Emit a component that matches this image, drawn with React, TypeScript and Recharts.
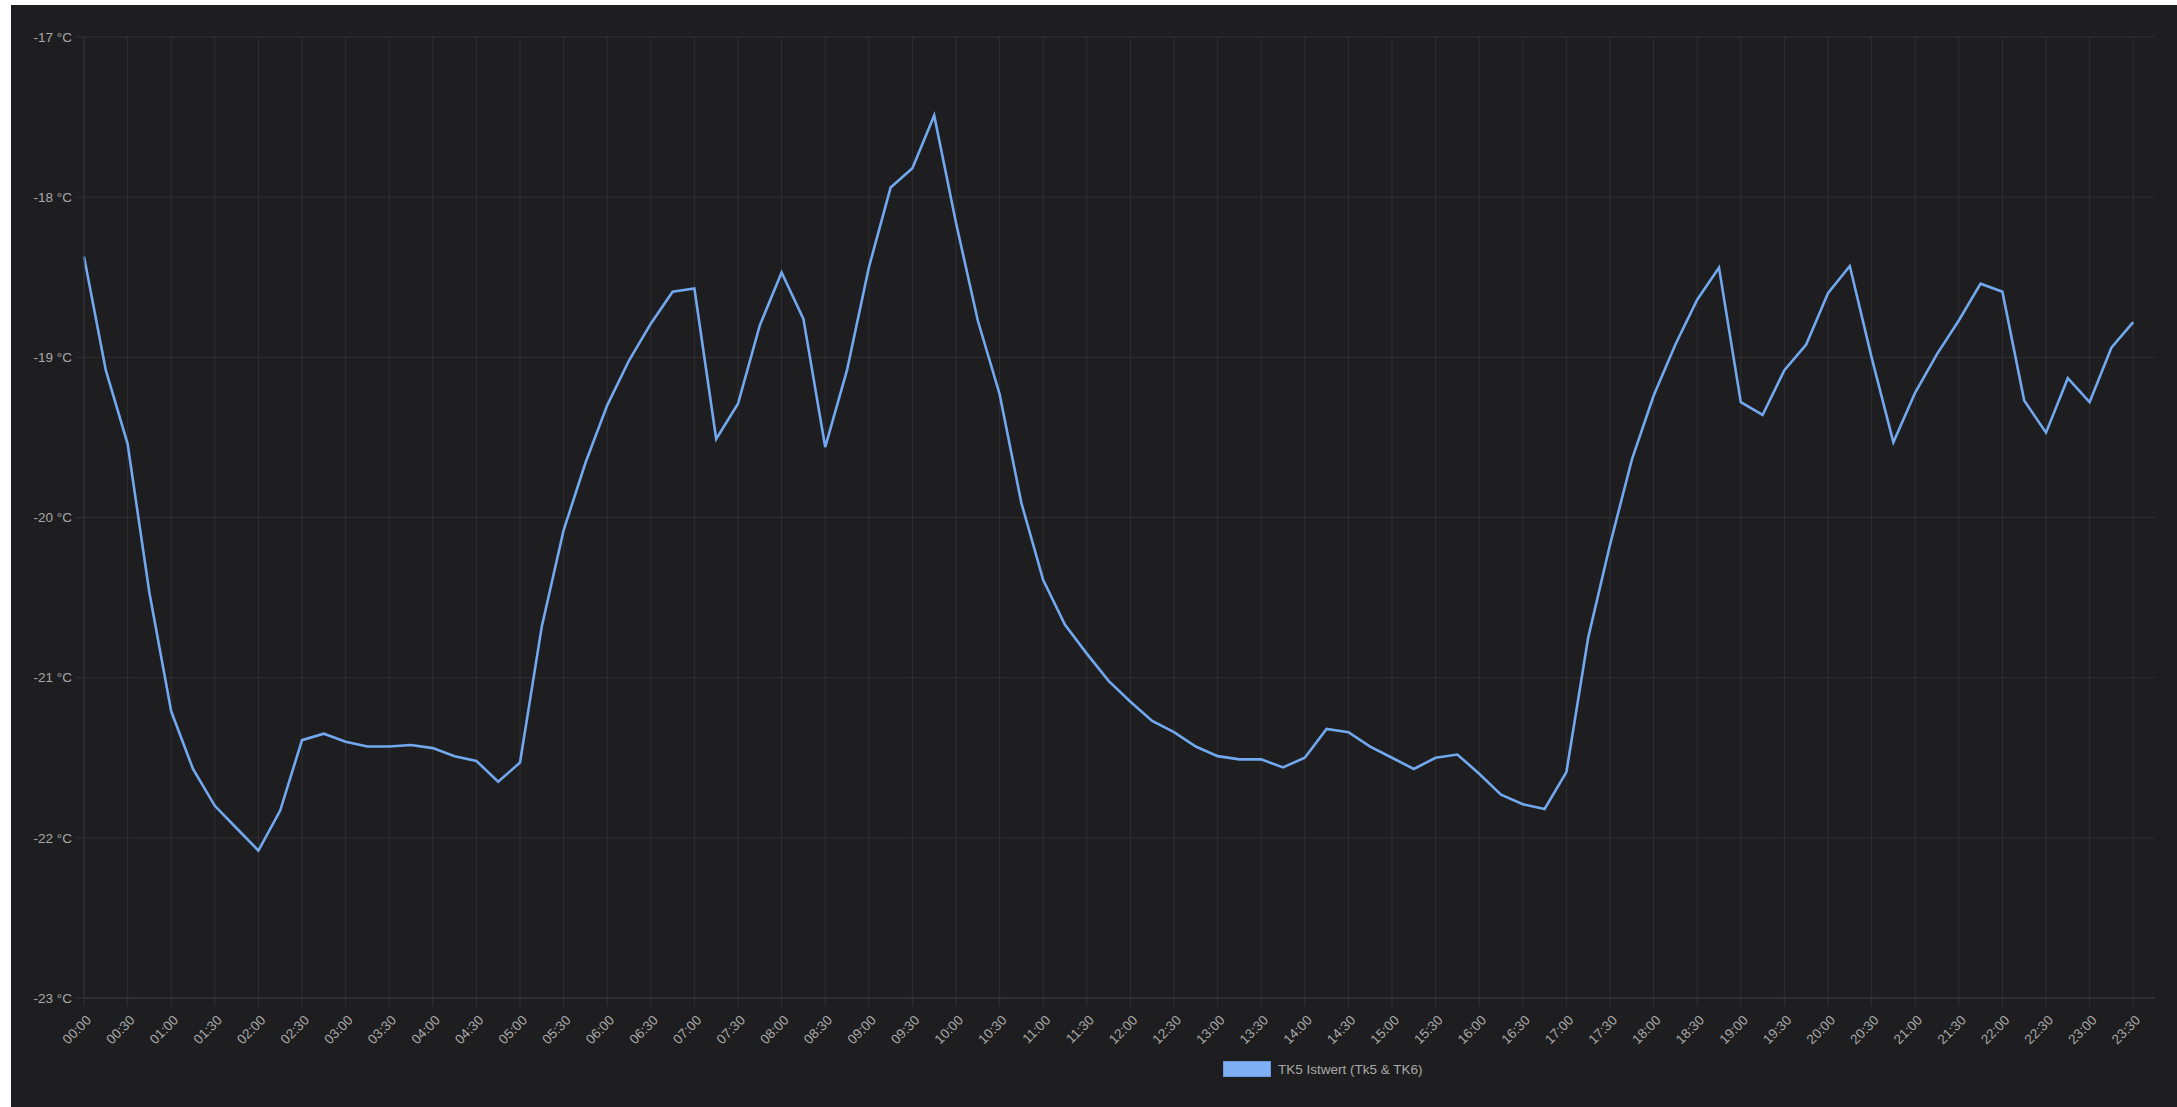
import React from 'react';
import { LineChart, Line, XAxis, YAxis, CartesianGrid } from 'recharts';

// 15-minute slots, the last one (23:45) has no reading yet
const timeSlots = [
  '00:00', '00:15', '00:30', '00:45', '01:00', '01:15', '01:30', '01:45',
  '02:00', '02:15', '02:30', '02:45', '03:00', '03:15', '03:30', '03:45',
  '04:00', '04:15', '04:30', '04:45', '05:00', '05:15', '05:30', '05:45',
  '06:00', '06:15', '06:30', '06:45', '07:00', '07:15', '07:30', '07:45',
  '08:00', '08:15', '08:30', '08:45', '09:00', '09:15', '09:30', '09:45',
  '10:00', '10:15', '10:30', '10:45', '11:00', '11:15', '11:30', '11:45',
  '12:00', '12:15', '12:30', '12:45', '13:00', '13:15', '13:30', '13:45',
  '14:00', '14:15', '14:30', '14:45', '15:00', '15:15', '15:30', '15:45',
  '16:00', '16:15', '16:30', '16:45', '17:00', '17:15', '17:30', '17:45',
  '18:00', '18:15', '18:30', '18:45', '19:00', '19:15', '19:30', '19:45',
  '20:00', '20:15', '20:30', '20:45', '21:00', '21:15', '21:30', '21:45',
  '22:00', '22:15', '22:30', '22:45', '23:00', '23:15', '23:30', '23:45',
];

const tk5Istwert: (number | null)[] = [
  -18.37, -19.08, -19.54, -20.47, -21.21, -21.57, -21.8, -21.94,
  -22.08, -21.83, -21.39, -21.35, -21.4, -21.43, -21.43, -21.42,
  -21.44, -21.49, -21.52, -21.65, -21.53, -20.68, -20.08, -19.66,
  -19.3, -19.02, -18.79, -18.59, -18.57, -19.51, -19.29, -18.8,
  -18.47, -18.76, -19.56, -19.08, -18.44, -17.94, -17.82, -17.49,
  -18.16, -18.77, -19.23, -19.91, -20.39, -20.67, -20.85, -21.02,
  -21.15, -21.27, -21.34, -21.43, -21.49, -21.51, -21.51, -21.56,
  -21.5, -21.32, -21.34, -21.43, -21.5, -21.57, -21.5, -21.48,
  -21.6, -21.73, -21.79, -21.82, -21.59, -20.75, -20.17, -19.64,
  -19.24, -18.92, -18.64, -18.44, -19.28, -19.36, -19.08, -18.92,
  -18.6, -18.43, -19.0, -19.53, -19.22, -18.98, -18.77, -18.54,
  -18.59, -19.27, -19.47, -19.13, -19.28, -18.94, -18.78, null,
];

const yTicks = [-23, -22, -21, -20, -19, -18, -17];

const seriesName = 'TK5 Istwert (Tk5 & TK6)';

const data = timeSlots.map((time, i) => ({ time, value: tk5Istwert[i] }));

const FONT = '"Liberation Sans", Arial, sans-serif';
const BG = '#1e1e20';
const GRID = '#303032';
const TEXT = '#a9a9a9';
const LINE = '#72a8ef';

const XTick = (props: any) => {
  const { x, y, payload } = props;
  const bx = x + 8;
  const by = y + 13;
  return (
    <text
      x={bx}
      y={by}
      textAnchor="end"
      fill={TEXT}
      fontSize={13.5}
      fontFamily={FONT}
      transform={`rotate(-45 ${bx} ${by})`}
    >
      {payload.value}
    </text>
  );
};

// vertical grid only at the labelled (half-hour) slots
const halfHourGrid = ({ xAxis, offset }: any) => {
  const labelled = timeSlots.filter((_, i) => i % 2 === 0);
  if (xAxis && typeof xAxis.scale === 'function') {
    return labelled.map((t) => xAxis.scale(t));
  }
  const step = offset.width / (timeSlots.length - 1);
  return labelled.map((t) => offset.left + timeSlots.indexOf(t) * step);
};

export default function App() {
  return (
    <div style={{ position: 'absolute', left: 11, top: 5, width: 2166, height: 1102, background: BG }}>
      <LineChart
        width={2166}
        height={1102}
        data={data}
        margin={{ top: 32, right: 22, bottom: 0, left: 13 }}
      >
        <CartesianGrid stroke={GRID} strokeWidth={1} verticalCoordinatesGenerator={halfHourGrid} />
        <XAxis
          dataKey="time"
          interval={1}
          height={109}
          tickSize={8}
          tickLine={{ stroke: GRID }}
          axisLine={{ stroke: '#3a3a3c' }}
          tick={<XTick />}
        />
        <YAxis
          width={60}
          domain={[-23, -17]}
          ticks={yTicks}
          interval={0}
          tickSize={8}
          tickMargin={4}
          tickLine={{ stroke: GRID }}
          axisLine={{ stroke: GRID }}
          tickFormatter={(v: number) => `${v} °C`}
          tick={{ fill: TEXT, fontSize: 13.5, fontFamily: FONT }}
        />
        <Line
          type="linear"
          dataKey="value"
          name={seriesName}
          stroke={LINE}
          strokeWidth={2.6}
          dot={false}
          activeDot={false}
          isAnimationActive={false}
        />
      </LineChart>
      <div
        style={{
          position: 'absolute',
          left: 1212,
          top: 1056,
          display: 'flex',
          alignItems: 'center',
          fontFamily: FONT,
          fontSize: 13.5,
          color: TEXT,
          whiteSpace: 'nowrap',
        }}
      >
        <span
          style={{
            display: 'inline-block',
            width: 46,
            height: 14,
            background: '#7fb0f5',
            border: '1px solid #6a9ade',
            marginRight: 7,
          }}
        />
        <span>{seriesName}</span>
      </div>
    </div>
  );
}
